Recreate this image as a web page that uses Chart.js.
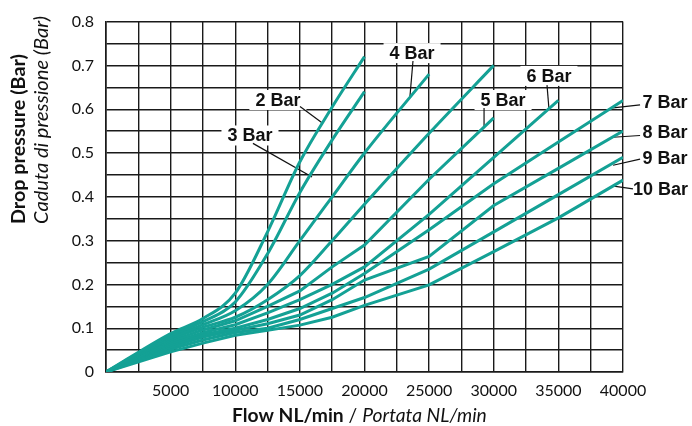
<!DOCTYPE html>
<html>
<head>
<meta charset="utf-8">
<script src="https://cdn.jsdelivr.net/npm/chart.js@4.4.1/dist/chart.umd.min.js"></script>
<style>
  body { margin: 0; background: #fff; }
  #wrap { width: 692px; height: 426px; }
</style>
</head>
<body>
<div id="wrap"><canvas id="chart" width="692" height="426"></canvas></div>
<script>
// flow values (NL/min) shared by all curves
const flow = [0, 5000, 7500, 10000, 12500, 15000, 17500, 20000, 25000, 30000, 35000, 40000];

// drop pressure (Bar) for each inlet pressure, null past the end of the curve
const bar2  = [0, 0.088, 0.122, 0.180, 0.320, 0.480, 0.605, 0.720, null, null, null, null];
const bar3  = [0, 0.083, 0.115, 0.160, 0.270, 0.410, 0.530, 0.640, null, null, null, null];
const bar4  = [0, 0.078, 0.108, 0.140, 0.200, 0.300, 0.400, 0.500, 0.680, null, null, null];
const bar4b = [0, 0.074, 0.102, 0.125, 0.165, 0.220, 0.300, 0.383, 0.545, 0.700, null, null];
const bar5  = [0, 0.070, 0.096, 0.117, 0.150, 0.185, 0.240, 0.290, 0.440, 0.580, null, null];
const bar6  = [0, 0.066, 0.090, 0.108, 0.135, 0.165, 0.200, 0.240, 0.360, 0.490, 0.620, null];
const bar7  = [0, 0.062, 0.085, 0.100, 0.120, 0.145, 0.180, 0.225, 0.325, 0.430, 0.525, 0.620];
const bar8  = [0, 0.057, 0.080, 0.095, 0.110, 0.130, 0.165, 0.210, 0.264, 0.380, 0.465, 0.550];
const bar9  = [0, 0.052, 0.073, 0.090, 0.100, 0.120, 0.145, 0.170, 0.235, 0.320, 0.405, 0.490];
const bar10 = [0, 0.046, 0.066, 0.084, 0.095, 0.107, 0.125, 0.152, 0.199, 0.275, 0.352, 0.438];

const series = [bar2, bar3, bar4, bar4b, bar5, bar6, bar7, bar8, bar9, bar10];
const smooth = [true, true, true, true, false, false, false, false, false, false];

// curve labels: text position and leader line, in data units
const labelText = ["2 Bar", "3 Bar", "4 Bar", "5 Bar", "6 Bar", "7 Bar", "8 Bar", "9 Bar", "10 Bar"];
const labelAt   = [[13300, 0.621], [11140, 0.540], [23680, 0.728], [30720, 0.621], [34270, 0.676],
                   [43250, 0.617], [43250, 0.547], [43250, 0.488], [42900, 0.418]];
const leaderFrom = [[15010, 0.606], [11370, 0.522], [23750, 0.710], [29250, 0.603], [34120, 0.655],
                    [41320, 0.610], [41320, 0.540], [41320, 0.486], [40770, 0.418]];
const leaderTo   = [[16710, 0.569], [15940, 0.445], [23520, 0.630], [29250, 0.558], [34270, 0.601],
                    [39230, 0.603], [39230, 0.536], [39230, 0.472], [39150, 0.425]];

const teal = "#14a195";

function toPoints(values) {
    const pts = [];
    values.forEach((v, i) => {
        if (v !== null) pts.push({x: flow[i], y: v});
    });
    return pts;
}

// font size that makes text about `target` px long
function fitSize(ctx, text, style, target) {
    ctx.font = style + " 20px Lato, sans-serif";
    return 20 * target / ctx.measureText(text).width;
}

const labelsPlugin = {
    id: "curveLabels",
    beforeDatasetsDraw(chart) {
        const ctx = chart.ctx;
        const xs = chart.scales.x, ys = chart.scales.y;
        ctx.save();
        ctx.font = "bold 18px 'Liberation Sans', Arial, sans-serif";
        ctx.textAlign = "center";
        ctx.textBaseline = "middle";
        labelText.forEach((t, i) => {
            const px = xs.getPixelForValue(labelAt[i][0]);
            const py = ys.getPixelForValue(labelAt[i][1]);
            const w = ctx.measureText(t).width;
            ctx.fillStyle = "#fff";
            ctx.fillRect(px - w / 2 - 6, py - 10, w + 12, 20);
            ctx.fillStyle = "#111";
            ctx.fillText(t, px, py + 1);
            ctx.beginPath();
            ctx.moveTo(xs.getPixelForValue(leaderFrom[i][0]), ys.getPixelForValue(leaderFrom[i][1]));
            ctx.lineTo(xs.getPixelForValue(leaderTo[i][0]), ys.getPixelForValue(leaderTo[i][1]));
            ctx.lineWidth = 1.2;
            ctx.strokeStyle = "#111";
            ctx.stroke();
        });
        ctx.restore();
    },
    afterDraw(chart) {
        const ctx = chart.ctx;
        ctx.save();
        ctx.fillStyle = "#111";
        ctx.textBaseline = "middle";
        ctx.textAlign = "left";

        // x axis title, bold + italic parts
        const p1 = "Flow NL/min", p2 = " / ", p3 = "Portata NL/min";
        ctx.font = "bold 20px Lato, sans-serif"; let t = ctx.measureText(p1).width;
        ctx.font = "20px Lato, sans-serif"; t += ctx.measureText(p2).width;
        ctx.font = "italic 20px Lato, sans-serif"; t += ctx.measureText(p3).width;
        const s = 20 * 255 / t;
        let x = 232;
        const y = 416;
        ctx.font = "bold " + s + "px Lato, sans-serif"; ctx.fillText(p1, x, y); x += ctx.measureText(p1).width;
        ctx.font = s + "px Lato, sans-serif"; ctx.fillText(p2, x, y); x += ctx.measureText(p2).width;
        ctx.font = "italic " + s + "px Lato, sans-serif"; ctx.fillText(p3, x, y);

        // y axis title, two rotated lines
        const yt1 = "Drop pressure (Bar)", yt2 = "Caduta di pressione (Bar)";
        const s1 = fitSize(ctx, yt1, "bold", 170);
        const s2 = fitSize(ctx, yt2, "italic", 208);
        ctx.save();
        ctx.translate(19, 224);
        ctx.rotate(-Math.PI / 2);
        ctx.font = "bold " + s1 + "px Lato, sans-serif";
        ctx.fillText(yt1, 0, 0);
        ctx.restore();
        ctx.save();
        ctx.translate(42, 224);
        ctx.rotate(-Math.PI / 2);
        ctx.font = "italic " + s2 + "px Lato, sans-serif";
        ctx.fillText(yt2, 0, 0);
        ctx.restore();
        ctx.restore();
    }
};

new Chart("chart", {
    type: "line",
    data: {
        datasets: series.map((s, i) => ({
            data: toPoints(s),
            borderColor: teal,
            borderWidth: 3,
            pointRadius: 0,
            fill: false,
            cubicInterpolationMode: smooth[i] ? "monotone" : "default",
            tension: 0
        }))
    },
    options: {
        responsive: false,
        animation: false,
        layout: { padding: { left: 0, top: 18, right: 69, bottom: 0 } },
        plugins: { legend: { display: false }, tooltip: { enabled: false } },
        scales: {
            x: {
                type: "linear",
                min: 0,
                max: 40000,
                afterFit(scale) { scale.height = 54; },
                grid: { color: "#1a1a1a", lineWidth: 1.4, drawTicks: false },
                border: { color: "#1a1a1a", width: 1.6 },
                ticks: {
                    stepSize: 2500,
                    autoSkip: false,
                    maxRotation: 0,
                    padding: 9,
                    color: "#111",
                    font: { family: "Lato", size: 16 },
                    callback: v => (v % 5000 === 0 && v !== 0) ? String(v) : ""
                }
            },
            y: {
                min: 0,
                max: 0.8,
                afterFit(scale) { scale.width = 106; },
                grid: { color: "#1a1a1a", lineWidth: 1.4, drawTicks: false },
                border: { color: "#1a1a1a", width: 1.6 },
                ticks: {
                    stepSize: 0.05,
                    autoSkip: false,
                    padding: 12,
                    color: "#111",
                    font: { family: "Lato", size: 16 },
                    callback: v => {
                        const k = Math.round(v * 100);
                        if (k % 10 !== 0) return "";
                        return k === 0 ? "0" : (k / 100).toFixed(1);
                    }
                }
            }
        }
    },
    plugins: [labelsPlugin]
});
</script>
</body>
</html>
